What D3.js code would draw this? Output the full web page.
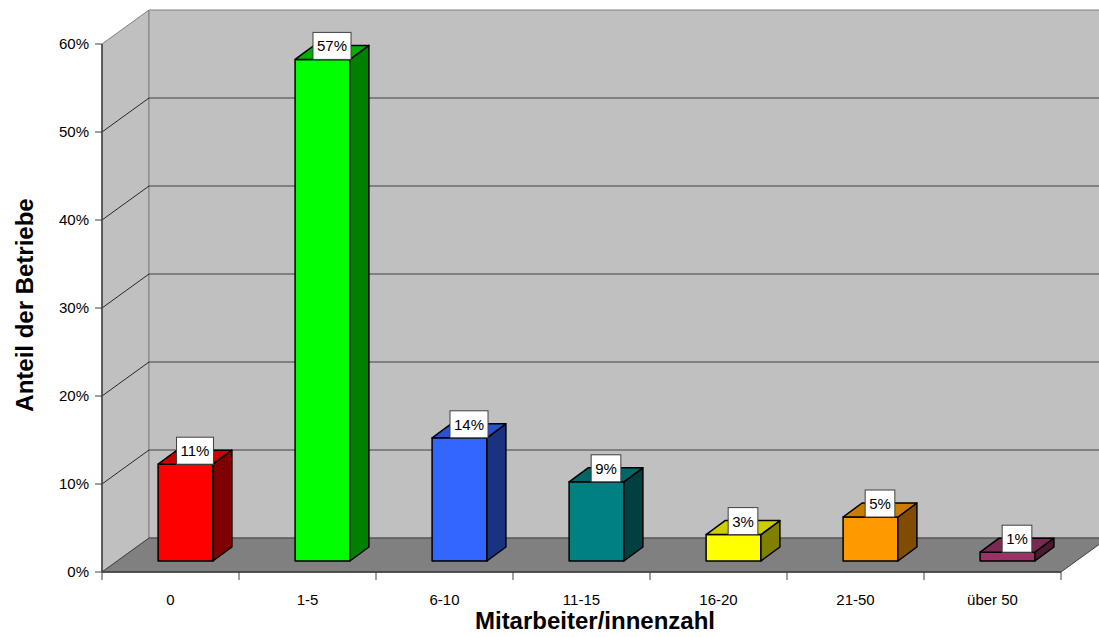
<!DOCTYPE html>
<html>
<head>
<meta charset="utf-8">
<script src="https://cdn.jsdelivr.net/npm/d3@7"></script>
<style>
  body { margin: 0; background: #fff; }
  text { font-family: Arial, "Liberation Sans", sans-serif; }
</style>
</head>
<body>
<script>
var categories = ['0', '1-5', '6-10', '11-15', '16-20', '21-50', 'über 50']
var values = [0.11, 0.57, 0.14, 0.09, 0.03, 0.05, 0.01]
var labels = ['11%', '57%', '14%', '9%', '3%', '5%', '1%']
var yTicks = [0, 0.1, 0.2, 0.3, 0.4, 0.5, 0.6]

var frontColors = ['#ff0000', '#00ff00', '#3366ff', '#008080', '#ffff00', '#ff9900', '#993366']
var sideColors  = ['#800000', '#008000', '#1a3380', '#004040', '#808000', '#804c00', '#4c1933']
var topColors   = ['#cc0000', '#00b000', '#2952cc', '#006666', '#cccc00', '#cc7a00', '#7a2952']

var width = 1099,
    height = 637

// depth of the plot box and of the bars (as offsets dx, dy)
var depth = [47, -34]
var barFront = [15, -11],
    barBack = [34, -25]

var x = d3.scaleBand()
    .domain(categories)
    .range([102, 1061])

var y = d3.scaleLinear()
    .domain([0, 0.6])
    .range([572, 44])

var fmt = d3.format('.0%')

var svg = d3.select('body').append('svg')
    .attr('width', width)
    .attr('height', height)

var x0 = x.range()[0], x1 = x.range()[1]
var yb = y(0), yt = y(0.6)

function pts(a) { return a.map(function(p){ return p.join(',') }).join(' ') }

// left wall
svg.append('polygon')
    .attr('points', pts([[x0, yt], [x0 + depth[0], yt + depth[1]], [x0 + depth[0], yb + depth[1]], [x0, yb]]))
    .attr('fill', '#c0c0c0')
    .attr('stroke', '#808080')

// back wall
svg.append('polygon')
    .attr('points', pts([[x0 + depth[0], yt + depth[1]], [x1 + depth[0], yt + depth[1]], [x1 + depth[0], yb + depth[1]], [x0 + depth[0], yb + depth[1]]]))
    .attr('fill', '#c0c0c0')
    .attr('stroke', '#808080')

// gridlines
var grid = yTicks.filter(function(d){ return d > 0 && d < 0.6 })
svg.selectAll('line.grid-back').data(grid).enter().append('line')
    .attr('class', 'grid-back')
    .attr('x1', x0 + depth[0]).attr('x2', x1 + depth[0])
    .attr('y1', function(d){ return y(d) + depth[1] })
    .attr('y2', function(d){ return y(d) + depth[1] })
    .attr('stroke', '#404040')
svg.selectAll('line.grid-side').data(grid).enter().append('line')
    .attr('class', 'grid-side')
    .attr('x1', x0).attr('x2', x0 + depth[0])
    .attr('y1', function(d){ return y(d) })
    .attr('y2', function(d){ return y(d) + depth[1] })
    .attr('stroke', '#000')
    .attr('stroke-width', 0.8)

// floor
svg.append('polygon')
    .attr('points', pts([[x0, yb], [x0 + depth[0], yb + depth[1]], [x1 + depth[0], yb + depth[1]], [x1, yb]]))
    .attr('fill', '#808080')
    .attr('stroke', '#404040')

// axis lines
svg.append('line')
    .attr('x1', x0).attr('x2', x0).attr('y1', yt).attr('y2', yb)
    .attr('stroke', '#404040').attr('stroke-width', 1.5)
svg.append('line')
    .attr('x1', x0).attr('x2', x1).attr('y1', yb).attr('y2', yb)
    .attr('stroke', '#404040').attr('stroke-width', 1.5)

svg.selectAll('line.ytick').data(yTicks).enter().append('line')
    .attr('x1', x0 - 7).attr('x2', x0)
    .attr('y1', function(d){ return y(d) }).attr('y2', function(d){ return y(d) })
    .attr('stroke', '#404040')
svg.selectAll('text.ylab').data(yTicks).enter().append('text')
    .attr('x', x0 - 13)
    .attr('y', function(d){ return y(d) + 5 })
    .attr('text-anchor', 'end')
    .style('font-size', '15px')
    .text(fmt)

// x axis ticks + labels
var xt = categories.map(function(c){ return x(c) }).concat([x1])
svg.selectAll('line.xtick').data(xt).enter().append('line')
    .attr('x1', function(d){ return d }).attr('x2', function(d){ return d })
    .attr('y1', yb).attr('y2', yb + 8)
    .attr('stroke', '#404040')
svg.selectAll('text.xlab').data(categories).enter().append('text')
    .attr('x', function(d){ return x(d) + x.bandwidth() / 2 })
    .attr('y', 605)
    .attr('text-anchor', 'middle')
    .style('font-size', '15px')
    .text(function(d){ return d })

// bars
var bw = x.bandwidth() * 0.4
var bars = svg.selectAll('g.bar').data(values).enter().append('g')

bars.each(function(v, i){
  var g = d3.select(this)
  var l = x(categories[i]) + (x.bandwidth() - bw) / 2 + barFront[0],
      r = l + bw,
      b = y(0) + barFront[1],
      t = y(v) + barFront[1],
      dx = barBack[0] - barFront[0],
      dy = barBack[1] - barFront[1]

  g.append('polygon')
      .attr('points', pts([[l, t], [r, t], [r, b], [l, b]]))
      .attr('fill', frontColors[i])
  g.append('polygon')
      .attr('points', pts([[r, t], [r + dx, t + dy], [r + dx, b + dy], [r, b]]))
      .attr('fill', sideColors[i])
  g.append('polygon')
      .attr('points', pts([[l, t], [l + dx, t + dy], [r + dx, t + dy], [r, t]]))
      .attr('fill', topColors[i])
  g.selectAll('polygon')
      .attr('stroke', '#000')
      .attr('stroke-width', 1.5)
      .attr('stroke-linejoin', 'round')

  // value label
  var cx = (l + r + dx) / 2
  var lab = g.append('g')
  var txt = lab.append('text')
      .attr('x', cx)
      .attr('y', t - 8)
      .attr('text-anchor', 'middle')
      .style('font-size', '15px')
      .text(labels[i])
  var w = txt.node().getComputedTextLength() + 8
  lab.insert('rect', 'text')
      .attr('x', cx - w / 2)
      .attr('y', t - 27)
      .attr('width', w)
      .attr('height', 27)
      .attr('fill', '#fff')
      .attr('stroke', '#404040')
      .attr('stroke-width', 1)
})

// axis titles
svg.append('text')
    .attr('x', 595)
    .attr('y', 629)
    .attr('text-anchor', 'middle')
    .style('font-size', '24px')
    .style('font-weight', 'bold')
    .text('Mitarbeiter/innenzahl')

svg.append('text')
    .attr('transform', 'translate(33,305) rotate(-90)')
    .attr('text-anchor', 'middle')
    .style('font-size', '24px')
    .style('font-weight', 'bold')
    .text('Anteil der Betriebe')
</script>
</body>
</html>
